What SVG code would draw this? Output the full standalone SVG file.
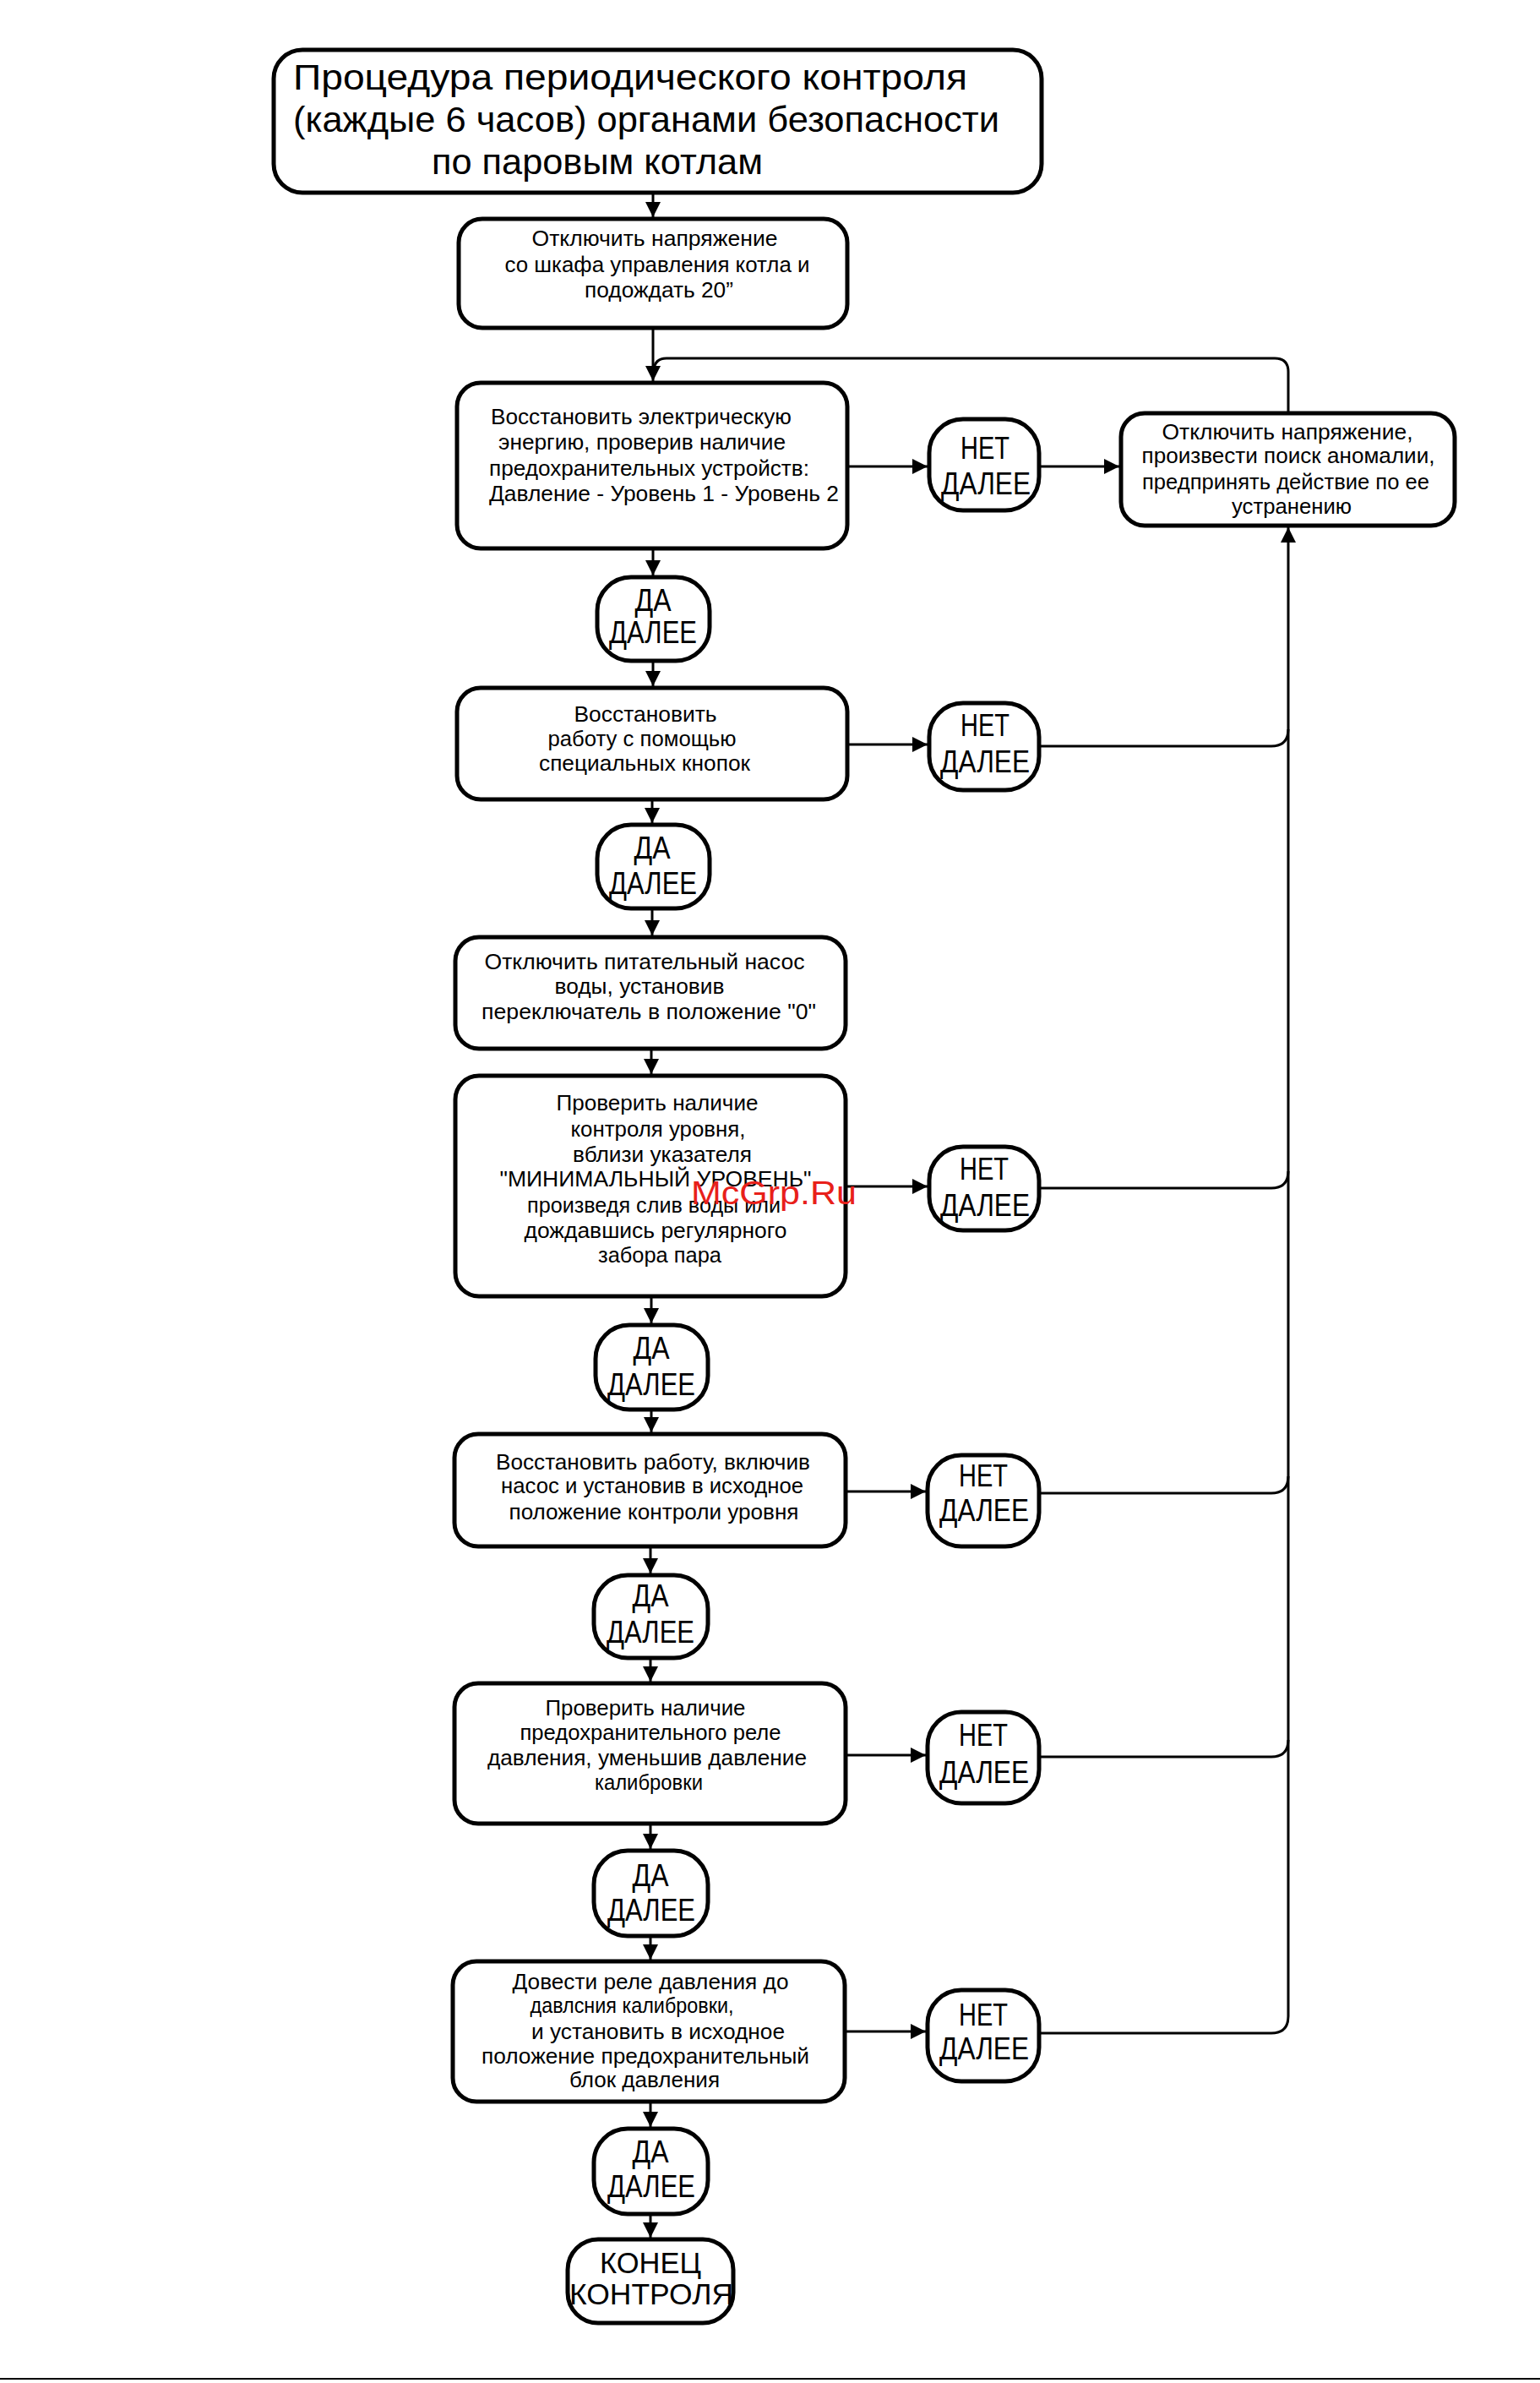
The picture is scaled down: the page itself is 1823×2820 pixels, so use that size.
<svg xmlns="http://www.w3.org/2000/svg" width="1823" height="2820" viewBox="0 0 1823 2820">
<style>
.box{fill:#fff;stroke:#000;stroke-width:5}
.c{fill:none;stroke:#000;stroke-width:3}
.t{font-family:"Liberation Sans",Arial,sans-serif;font-size:25px;fill:#000;text-anchor:middle}
.ts{font-family:"Liberation Sans",Arial,sans-serif;font-size:25px;fill:#000;text-anchor:start}
.n{font-family:"Liberation Sans",Arial,sans-serif;font-size:36px;fill:#000;text-anchor:middle}
.h{font-family:"Liberation Sans",Arial,sans-serif;font-size:43px;fill:#000;text-anchor:start}
.e{font-family:"Liberation Sans",Arial,sans-serif;font-size:35px;fill:#000;text-anchor:middle}
.wm{font-family:"Liberation Sans",Arial,sans-serif;font-size:39px;fill:#e8201a;text-anchor:start}
</style>
<defs>
<marker id="ah" markerUnits="userSpaceOnUse" markerWidth="20" markerHeight="18" refX="18" refY="9" orient="auto">
<path d="M0,0 L18,9 L0,18 z" fill="#000"/>
</marker>
</defs>
<rect width="1823" height="2820" fill="#fff"/>

<g id="connectors">
<path class="c" d="M773,228 V257" marker-end="url(#ah)"/>
<path class="c" d="M773,388 V451" marker-end="url(#ah)"/>
<path class="c" d="M1525,489 V440 Q1525,424 1509,424 H789 Q775,424 774,438"/>
<path class="c" d="M1003,552 H1098" marker-end="url(#ah)"/>
<path class="c" d="M1230,552 H1325" marker-end="url(#ah)"/>
<path class="c" d="M773,649 V681" marker-end="url(#ah)"/>
<path class="c" d="M773,782 V812" marker-end="url(#ah)"/>
<path class="c" d="M1003,881 H1098" marker-end="url(#ah)"/>
<path class="c" d="M1230,883 H1505 Q1525,883 1525,863"/>
<path class="c" d="M772,946 V974" marker-end="url(#ah)"/>
<path class="c" d="M772,1075 V1107" marker-end="url(#ah)"/>
<path class="c" d="M771,1241 V1271" marker-end="url(#ah)"/>
<path class="c" d="M1001,1404 H1098" marker-end="url(#ah)"/>
<path class="c" d="M1230,1406 H1505 Q1525,1406 1525,1386"/>
<path class="c" d="M771,1534 V1566" marker-end="url(#ah)"/>
<path class="c" d="M771,1668 V1695" marker-end="url(#ah)"/>
<path class="c" d="M1001,1765 H1096" marker-end="url(#ah)"/>
<path class="c" d="M1230,1767 H1505 Q1525,1767 1525,1747"/>
<path class="c" d="M770,1830 V1862" marker-end="url(#ah)"/>
<path class="c" d="M770,1962 V1990" marker-end="url(#ah)"/>
<path class="c" d="M1001,2077 H1096" marker-end="url(#ah)"/>
<path class="c" d="M1230,2079 H1505 Q1525,2079 1525,2059"/>
<path class="c" d="M770,2158 V2188" marker-end="url(#ah)"/>
<path class="c" d="M770,2291 V2319" marker-end="url(#ah)"/>
<path class="c" d="M1000,2404 H1096" marker-end="url(#ah)"/>
<path class="c" d="M1230,2406 H1505 Q1525,2406 1525,2386 V624" marker-end="url(#ah)"/>
<path class="c" d="M770,2487 V2517" marker-end="url(#ah)"/>
<path class="c" d="M770,2620 V2648" marker-end="url(#ah)"/>
</g>

<g id="title">
<rect class="box" x="324" y="59" width="909" height="169" rx="34"/>
<text class="h" x="347" y="106" textLength="798" lengthAdjust="spacingAndGlyphs">Процедура периодического контроля</text>
<text class="h" x="347" y="156" textLength="836" lengthAdjust="spacingAndGlyphs">(каждые 6 часов) органами безопасности</text>
<text class="h" x="511" y="206" textLength="392" lengthAdjust="spacingAndGlyphs">по паровым котлам</text>
</g>

<g id="box1">
<rect class="box" x="543" y="259" width="460" height="129" rx="28"/>
<text class="t" x="775" y="291" textLength="291" lengthAdjust="spacingAndGlyphs">Отключить напряжение</text>
<text class="t" x="778" y="322" textLength="361" lengthAdjust="spacingAndGlyphs">со шкафа управления котла и</text>
<text class="t" x="780" y="352" textLength="176" lengthAdjust="spacingAndGlyphs">подождать 20”</text>
</g>

<g id="box2">
<rect class="box" x="541" y="453" width="462" height="196" rx="28"/>
<text class="ts" x="581" y="502" textLength="356" lengthAdjust="spacingAndGlyphs">Восстановить электрическую</text>
<text class="ts" x="590" y="532" textLength="340" lengthAdjust="spacingAndGlyphs">энергию, проверив наличие</text>
<text class="ts" x="579" y="563" textLength="379" lengthAdjust="spacingAndGlyphs">предохранительных устройств:</text>
<text class="ts" x="579" y="593" textLength="414" lengthAdjust="spacingAndGlyphs">Давление - Уровень 1 - Уровень 2</text>
</g>

<g id="fix">
<rect class="box" x="1327" y="489" width="395" height="133" rx="28"/>
<text class="t" x="1524" y="520" textLength="297" lengthAdjust="spacingAndGlyphs">Отключить напряжение,</text>
<text class="t" x="1525" y="548" textLength="347" lengthAdjust="spacingAndGlyphs">произвести поиск аномалии,</text>
<text class="t" x="1522" y="579" textLength="340" lengthAdjust="spacingAndGlyphs">предпринять действие по ее</text>
<text class="t" x="1529" y="608" textLength="142" lengthAdjust="spacingAndGlyphs">устранению</text>
</g>

<g id="net1">
<rect class="box" x="1100" y="496" width="130" height="108" rx="40"/>
<text class="n" x="1166" y="543" textLength="58" lengthAdjust="spacingAndGlyphs">НЕТ</text>
<text class="n" x="1167" y="585" textLength="106" lengthAdjust="spacingAndGlyphs">ДАЛЕЕ</text>
</g>

<g id="da1">
<rect class="box" x="707" y="683" width="133" height="99" rx="40"/>
<text class="n" x="773" y="723" textLength="43" lengthAdjust="spacingAndGlyphs">ДА</text>
<text class="n" x="773" y="761" textLength="104" lengthAdjust="spacingAndGlyphs">ДАЛЕЕ</text>
</g>

<g id="box3">
<rect class="box" x="541" y="814" width="462" height="132" rx="28"/>
<text class="t" x="764" y="854" textLength="169" lengthAdjust="spacingAndGlyphs">Восстановить</text>
<text class="t" x="760" y="883" textLength="223" lengthAdjust="spacingAndGlyphs">работу с помощью</text>
<text class="t" x="763" y="912" textLength="250" lengthAdjust="spacingAndGlyphs">специальных кнопок</text>
</g>

<g id="net2">
<rect class="box" x="1100" y="832" width="130" height="103" rx="40"/>
<text class="n" x="1166" y="871" textLength="58" lengthAdjust="spacingAndGlyphs">НЕТ</text>
<text class="n" x="1166" y="914" textLength="106" lengthAdjust="spacingAndGlyphs">ДАЛЕЕ</text>
</g>

<g id="da2">
<rect class="box" x="707" y="976" width="133" height="99" rx="40"/>
<text class="n" x="772" y="1016" textLength="43" lengthAdjust="spacingAndGlyphs">ДА</text>
<text class="n" x="773" y="1058" textLength="104" lengthAdjust="spacingAndGlyphs">ДАЛЕЕ</text>
</g>

<g id="box4">
<rect class="box" x="539" y="1109" width="462" height="132" rx="28"/>
<text class="t" x="763" y="1147" textLength="379" lengthAdjust="spacingAndGlyphs">Отключить питательный насос</text>
<text class="t" x="757" y="1176" textLength="201" lengthAdjust="spacingAndGlyphs">воды, установив</text>
<text class="t" x="768" y="1206" textLength="396" lengthAdjust="spacingAndGlyphs">переключатель в  положение "0"</text>
</g>

<g id="box5">
<rect class="box" x="539" y="1273" width="462" height="261" rx="28"/>
<text class="t" x="778" y="1314" textLength="239" lengthAdjust="spacingAndGlyphs">Проверить наличие</text>
<text class="t" x="779" y="1345" textLength="207" lengthAdjust="spacingAndGlyphs">контроля уровня,</text>
<text class="t" x="784" y="1375" textLength="212" lengthAdjust="spacingAndGlyphs">вблизи указателя</text>
<text class="t" x="776" y="1404" textLength="369" lengthAdjust="spacingAndGlyphs">"МИНИМАЛЬНЫЙ УРОВЕНЬ"</text>
<text class="t" x="774" y="1435" textLength="300" lengthAdjust="spacingAndGlyphs">произведя слив воды или</text>
<text class="t" x="776" y="1465" textLength="311" lengthAdjust="spacingAndGlyphs">дождавшись регулярного</text>
<text class="t" x="781" y="1494" textLength="146" lengthAdjust="spacingAndGlyphs">забора пара</text>
</g>

<g id="net3">
<rect class="box" x="1100" y="1357" width="130" height="99" rx="40"/>
<text class="n" x="1165" y="1396" textLength="58" lengthAdjust="spacingAndGlyphs">НЕТ</text>
<text class="n" x="1166" y="1439" textLength="106" lengthAdjust="spacingAndGlyphs">ДАЛЕЕ</text>
</g>

<g id="da3">
<rect class="box" x="705" y="1568" width="133" height="100" rx="40"/>
<text class="n" x="771" y="1608" textLength="43" lengthAdjust="spacingAndGlyphs">ДА</text>
<text class="n" x="771" y="1651" textLength="104" lengthAdjust="spacingAndGlyphs">ДАЛЕЕ</text>
</g>

<g id="box6">
<rect class="box" x="538" y="1697" width="463" height="133" rx="28"/>
<text class="t" x="773" y="1739" textLength="372" lengthAdjust="spacingAndGlyphs">Восстановить работу, включив</text>
<text class="t" x="772" y="1767" textLength="358" lengthAdjust="spacingAndGlyphs">насос и установив в исходное</text>
<text class="t" x="774" y="1798" textLength="343" lengthAdjust="spacingAndGlyphs">положение контроли уровня</text>
</g>

<g id="net4">
<rect class="box" x="1098" y="1722" width="132" height="108" rx="40"/>
<text class="n" x="1164" y="1759" textLength="58" lengthAdjust="spacingAndGlyphs">НЕТ</text>
<text class="n" x="1165" y="1800" textLength="106" lengthAdjust="spacingAndGlyphs">ДАЛЕЕ</text>
</g>

<g id="da4">
<rect class="box" x="703" y="1864" width="135" height="98" rx="40"/>
<text class="n" x="770" y="1901" textLength="43" lengthAdjust="spacingAndGlyphs">ДА</text>
<text class="n" x="770" y="1944" textLength="104" lengthAdjust="spacingAndGlyphs">ДАЛЕЕ</text>
</g>

<g id="box7">
<rect class="box" x="538" y="1992" width="463" height="166" rx="28"/>
<text class="t" x="764" y="2030" textLength="237" lengthAdjust="spacingAndGlyphs">Проверить наличие</text>
<text class="t" x="770" y="2059" textLength="309" lengthAdjust="spacingAndGlyphs">предохранительного реле</text>
<text class="t" x="766" y="2089" textLength="378" lengthAdjust="spacingAndGlyphs">давления, уменьшив давление</text>
<text class="t" x="768" y="2118" textLength="128" lengthAdjust="spacingAndGlyphs">калибровки</text>
</g>

<g id="net5">
<rect class="box" x="1098" y="2026" width="132" height="108" rx="40"/>
<text class="n" x="1164" y="2066" textLength="58" lengthAdjust="spacingAndGlyphs">НЕТ</text>
<text class="n" x="1165" y="2110" textLength="106" lengthAdjust="spacingAndGlyphs">ДАЛЕЕ</text>
</g>

<g id="da5">
<rect class="box" x="703" y="2190" width="135" height="101" rx="40"/>
<text class="n" x="770" y="2232" textLength="43" lengthAdjust="spacingAndGlyphs">ДА</text>
<text class="n" x="771" y="2273" textLength="104" lengthAdjust="spacingAndGlyphs">ДАЛЕЕ</text>
</g>

<g id="box8">
<rect class="box" x="536" y="2321" width="464" height="166" rx="28"/>
<text class="t" x="770" y="2354" textLength="327" lengthAdjust="spacingAndGlyphs">Довести реле давления до</text>
<text class="t" x="748" y="2382" textLength="241" lengthAdjust="spacingAndGlyphs">давлсния калибровки,</text>
<text class="t" x="779" y="2413" textLength="300" lengthAdjust="spacingAndGlyphs">и установить в исходное</text>
<text class="t" x="764" y="2442" textLength="388" lengthAdjust="spacingAndGlyphs">положение предохранительный</text>
<text class="t" x="763" y="2470" textLength="178" lengthAdjust="spacingAndGlyphs">блок давления</text>
</g>

<g id="net6">
<rect class="box" x="1098" y="2355" width="132" height="108" rx="40"/>
<text class="n" x="1164" y="2397" textLength="58" lengthAdjust="spacingAndGlyphs">НЕТ</text>
<text class="n" x="1165" y="2437" textLength="106" lengthAdjust="spacingAndGlyphs">ДАЛЕЕ</text>
</g>

<g id="da6">
<rect class="box" x="703" y="2519" width="135" height="101" rx="40"/>
<text class="n" x="770" y="2559" textLength="43" lengthAdjust="spacingAndGlyphs">ДА</text>
<text class="n" x="771" y="2600" textLength="104" lengthAdjust="spacingAndGlyphs">ДАЛЕЕ</text>
</g>

<g id="end">
<rect class="box" x="672" y="2650" width="196" height="99" rx="36"/>
<text class="e" x="770" y="2690" textLength="120" lengthAdjust="spacingAndGlyphs">КОНЕЦ</text>
<text class="e" x="771" y="2727" textLength="194" lengthAdjust="spacingAndGlyphs">КОНТРОЛЯ</text>
</g>

<line x1="0" y1="2815" x2="1823" y2="2815" stroke="#000" stroke-width="2"/>
<text class="wm" x="818" y="1425" textLength="196" lengthAdjust="spacingAndGlyphs">McGrp.Ru</text>
</svg>
